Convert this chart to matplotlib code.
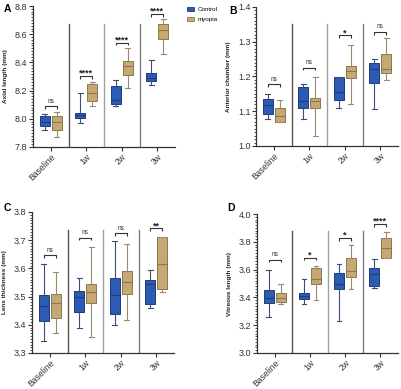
import matplotlib
matplotlib.use('Agg')
import matplotlib.pyplot as plt
from matplotlib.ticker import MultipleLocator, AutoMinorLocator
from matplotlib.patches import Patch

plt.rcParams['font.family'] = ['Liberation Sans', 'DejaVu Sans']

groups = ['Baseline', '1w', '2w', '3w']
series_names = ['Control', 'myopia']

# [min, Q1, median, Q3, max] per group
axial_control = [[7.918, 7.946, 7.974, 8.017, 8.035],
                 [7.970, 8.007, 8.024, 8.040, 8.180],
                 [8.089, 8.108, 8.131, 8.231, 8.272],
                 [8.239, 8.270, 8.286, 8.326, 8.420]]
axial_myopia = [[7.869, 7.918, 7.974, 8.017, 8.049],
                [8.090, 8.125, 8.184, 8.245, 8.260],
                [8.217, 8.310, 8.378, 8.411, 8.500],
                [8.459, 8.566, 8.630, 8.670, 8.708]]
axial_sig = ['ns', '****', '****', '****']
axial_bracket = [8.089, 8.302, 8.539, 8.743]

anterior_control = [[1.079, 1.091, 1.117, 1.134, 1.150],
                    [1.079, 1.108, 1.130, 1.169, 1.179],
                    [1.110, 1.131, 1.156, 1.198, 1.198],
                    [1.107, 1.181, 1.221, 1.240, 1.250]]
anterior_myopia = [[1.068, 1.069, 1.086, 1.109, 1.131],
                   [1.030, 1.108, 1.129, 1.138, 1.200],
                   [1.121, 1.195, 1.217, 1.231, 1.290],
                   [1.190, 1.210, 1.222, 1.265, 1.312]]
anterior_sig = ['ns', 'ns', '*', 'ns']
anterior_bracket = [1.177, 1.225, 1.318, 1.328]

lens_control = [[3.341, 3.412, 3.467, 3.505, 3.615],
                [3.388, 3.447, 3.500, 3.520, 3.566],
                [3.400, 3.437, 3.507, 3.565, 3.697],
                [3.458, 3.475, 3.546, 3.560, 3.595]]
lens_myopia = [[3.370, 3.425, 3.477, 3.510, 3.587],
               [3.358, 3.479, 3.517, 3.543, 3.676],
               [3.418, 3.510, 3.553, 3.590, 3.686],
               [3.518, 3.526, 3.615, 3.712, 3.712]]
lens_sig = ['ns', 'ns', 'ns', '**']
lens_bracket = [3.646, 3.709, 3.724, 3.742]

vitreous_control = [[3.260, 3.360, 3.393, 3.452, 3.600],
                    [3.350, 3.386, 3.410, 3.430, 3.530],
                    [3.230, 3.460, 3.500, 3.575, 3.640],
                    [3.470, 3.480, 3.565, 3.613, 3.677]]
vitreous_myopia = [[3.350, 3.367, 3.395, 3.430, 3.500],
                   [3.380, 3.500, 3.535, 3.610, 3.625],
                   [3.460, 3.546, 3.590, 3.680, 3.780],
                   [3.680, 3.684, 3.755, 3.827, 3.874]]
vitreous_sig = ['ns', '*', '*', '****']
vitreous_bracket = [3.670, 3.685, 3.827, 3.926]

W, H = 401, 389
fig = plt.figure(figsize=(W / 100, H / 100), dpi=100)

ctrl_fill, ctrl_edge, ctrl_wh = '#2d5bb3', '#1e3c7c', '#3b4d78'
myo_fill, myo_edge, myo_wh = '#c6a872', '#8c7650', '#9a8b6e'
spine_c = '#333333'


def px_axes(left, top, right, bottom):
    return fig.add_axes([left / W, 1 - bottom / H, (right - left) / W, (bottom - top) / H])


def stats_list(data):
    return [dict(whislo=d[0], q1=d[1], med=d[2], q3=d[3], whishi=d[4], fliers=[]) for d in data]


def draw_panel(ax, ctrl, myo, sig, brk, ylim, major, ylabel, sepmax):
    off, bw = 0.17, 0.29
    xs = list(range(len(groups)))
    for data, sign, fill, edge, wh in [(ctrl, -1, ctrl_fill, ctrl_edge, ctrl_wh),
                                      (myo, 1, myo_fill, myo_edge, myo_wh)]:
        ax.bxp(stats_list(data), positions=[x + sign * off for x in xs], widths=bw,
               patch_artist=True, showfliers=False, manage_ticks=False,
               boxprops=dict(facecolor=fill, edgecolor=edge, linewidth=0.7),
               medianprops=dict(color=edge, linewidth=0.8),
               whiskerprops=dict(color=wh, linewidth=0.8),
               capprops=dict(color=wh, linewidth=0.8), capwidths=0.13)
    ax.set_xlim(-0.5, len(groups) - 0.5)
    ax.set_ylim(*ylim)
    rng = ylim[1] - ylim[0]
    sep_colors = ['#555555', '#a0a0a0', '#808080']
    for i in range(len(groups) - 1):
        ax.axvline(i + 0.5, ymin=0, ymax=sepmax, color=sep_colors[i], lw=1.0, zorder=0)
    for x, s, y in zip(xs, sig, brk):
        h = 0.018 * rng
        ax.plot([x - off, x - off, x + off, x + off], [y - h, y, y, y - h],
                color='#333333', lw=0.8, solid_capstyle='butt')
        if s == 'ns':
            ax.text(x, y + 0.012 * rng, s, ha='center', va='bottom', fontsize=4.7, color='#333333')
        else:
            ax.text(x, y - 0.012 * rng, s, ha='center', va='bottom', fontsize=6.5,
                    fontweight='bold', color='#222222')
    ax.set_xticks(xs)
    ax.set_xticklabels(groups, rotation=45, ha='right', rotation_mode='anchor',
                       fontsize=6.2, color='#333333')
    ax.yaxis.set_major_locator(MultipleLocator(major))
    ax.yaxis.set_minor_locator(AutoMinorLocator(10))
    ax.tick_params(axis='y', which='major', labelsize=6.5, length=3, width=0.8,
                   colors=spine_c, pad=1)
    ax.tick_params(axis='y', which='minor', length=1.3, width=0.6, colors=spine_c)
    ax.tick_params(axis='x', which='major', length=3, width=0.8, colors=spine_c, pad=1)
    ax.yaxis.set_major_formatter(matplotlib.ticker.FormatStrFormatter('%.1f'))
    for sp in ['top', 'right']:
        ax.spines[sp].set_visible(False)
    for sp in ['left', 'bottom']:
        ax.spines[sp].set_color(spine_c)
        ax.spines[sp].set_linewidth(0.9)
    ax.set_ylabel(ylabel, fontsize=4.6, fontweight='bold', labelpad=5, color='#222222')
    ax.set_facecolor('none')


axA = px_axes(33, 6, 175, 147)
draw_panel(axA, axial_control, axial_myopia, axial_sig, axial_bracket,
           (7.8, 8.8), 0.2, 'Axial length (mm)', 0.87)
axB = px_axes(256, 7, 398, 146)
draw_panel(axB, anterior_control, anterior_myopia, anterior_sig, anterior_bracket,
           (1.0, 1.4), 0.1, 'Anterior chamber (mm)', 0.88)
axC = px_axes(32, 212, 174, 353)
draw_panel(axC, lens_control, lens_myopia, lens_sig, lens_bracket,
           (3.3, 3.8), 0.1, 'Lens thickness (mm)', 0.87)
axD = px_axes(257, 214, 398, 353)
draw_panel(axD, vitreous_control, vitreous_myopia, vitreous_sig, vitreous_bracket,
           (3.0, 4.0), 0.2, 'Vitreous length (mm)', 0.88)

for letter, (x, y) in zip('ABCD', [(4, 9), (229, 11), (4, 208), (227, 208)]):
    fig.text(x / W, 1 - y / H, letter, fontsize=7.5, fontweight='bold', va='center', ha='left')

handles = [Patch(facecolor=ctrl_fill, edgecolor=ctrl_edge, linewidth=0.6),
           Patch(facecolor=myo_fill, edgecolor=myo_edge, linewidth=0.6)]
fig.legend(handles, series_names, loc='upper left', bbox_to_anchor=(184 / W, 1 - 4 / H),
           frameon=False, fontsize=4.5, handlelength=1.2, handleheight=0.7,
           handletextpad=0.6, labelspacing=0.8, borderaxespad=0)

fig.savefig('out.png', dpi=100)
